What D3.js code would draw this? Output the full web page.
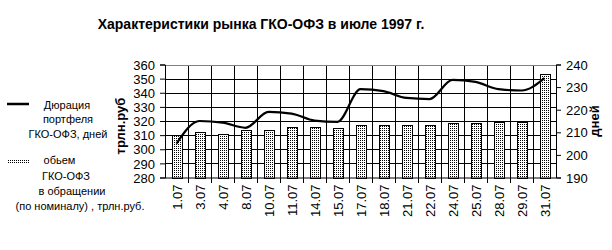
<!DOCTYPE html>
<html>
<head>
<meta charset="utf-8">
<script src="https://cdn.jsdelivr.net/npm/d3@7"></script>
<style>
  body { margin: 0; background: #fff; }
  text { font-family: "Liberation Sans", Arial, sans-serif; }
</style>
</head>
<body>
<script>
const dates = ["1.07", "3.07", "4.07", "8.07", "10.07", "11.07", "14.07", "15.07", "17.07",
  "18.07", "21.07", "22.07", "24.07", "25.07", "28.07", "29.07", "31.07"];
// объем ГКО-ОФЗ в обращении, трлн.руб (левая ось)
const volume = [310, 312, 311, 313.5, 313.5, 315.5, 315.5, 315, 317, 317, 317, 317, 318.5, 318.5, 319, 319, 353];
// дюрация портфеля, дней (правая ось)
const duration = [205, 215, 214.3, 212, 219, 218.3, 215.2, 214.6, 229.1, 228.2, 225.2, 224.7, 233.2, 232.3, 229.1, 228.5, 234];
const leftTicks = [280, 290, 300, 310, 320, 330, 340, 350, 360];
const rightTicks = [190, 200, 210, 220, 230, 240];

const W = 612, H = 250;
const plot = {left: 165, right: 556, top: 64.5, bottom: 177.5};

const svg = d3.select("body").append("svg")
  .attr("width", W)
  .attr("height", H);

const defs = svg.append("defs");
const pat = defs.append("pattern")
  .attr("id", "dots")
  .attr("patternUnits", "userSpaceOnUse")
  .attr("width", 2)
  .attr("height", 2);
pat.append("rect").attr("width", 2).attr("height", 2).attr("fill", "#fff");
pat.append("rect").attr("width", 1).attr("height", 1).attr("fill", "#000");

const x = d3.scaleBand()
  .domain(dates)
  .range([plot.left, plot.right])
  .padding(0);

const yL = d3.scaleLinear()
  .domain([280, 360])
  .range([plot.bottom, plot.top]);

const yR = d3.scaleLinear()
  .domain([190, 240])
  .range([plot.bottom, plot.top]);

// title
svg.append("text")
  .attr("x", 261)
  .attr("y", 28.5)
  .attr("text-anchor", "middle")
  .attr("font-size", 14)
  .attr("font-weight", "bold")
  .text("Характеристики рынка ГКО-ОФЗ в июле 1997 г.");

// grid
const grid = svg.append("g").attr("shape-rendering", "crispEdges");
grid.selectAll("line.h")
  .data(leftTicks.slice(1, -1))
  .enter().append("line")
  .attr("class", "h")
  .attr("x1", plot.left).attr("x2", plot.right)
  .attr("y1", d => Math.round(yL(d)) + 0.5)
  .attr("y2", d => Math.round(yL(d)) + 0.5)
  .attr("stroke", "#000");
grid.selectAll("line.v")
  .data(dates.slice(1))
  .enter().append("line")
  .attr("class", "v")
  .attr("x1", d => Math.round(x(d)) + 0.5)
  .attr("x2", d => Math.round(x(d)) + 0.5)
  .attr("y1", plot.top).attr("y2", plot.bottom)
  .attr("stroke", "#000");
grid.append("line")
  .attr("x1", plot.left).attr("x2", plot.right)
  .attr("y1", Math.round(plot.top) + 0.5).attr("y2", Math.round(plot.top) + 0.5)
  .attr("stroke", "#808080");

// bars
const barW = 10;
svg.append("g")
  .attr("shape-rendering", "crispEdges")
  .selectAll("rect")
  .data(volume)
  .enter().append("rect")
  .attr("x", (d, i) => Math.round(x(dates[i]) + x.bandwidth() / 2 - barW / 2) + 0.5)
  .attr("y", d => Math.round(yL(d)) + 0.5)
  .attr("width", barW)
  .attr("height", d => Math.round(yL(280)) - Math.round(yL(d)))
  .attr("fill", "url(#dots)")
  .attr("stroke", "#000");

// line
const line = d3.line()
  .x((d, i) => x(dates[i]) + x.bandwidth() / 2)
  .y(d => yR(d))
  .curve(d3.curveMonotoneX);

svg.append("path")
  .attr("d", line(duration))
  .attr("fill", "none")
  .attr("stroke", "#000")
  .attr("stroke-width", 2.2);

// axes
const axisL = svg.append("g")
  .attr("transform", `translate(${plot.left},0)`)
  .call(d3.axisLeft(yL).tickValues(leftTicks).tickSize(5).tickPadding(5));
const axisR = svg.append("g")
  .attr("transform", `translate(${plot.right},0)`)
  .call(d3.axisRight(yR).tickValues(rightTicks).tickSize(5).tickPadding(5));
const axisB = svg.append("g")
  .attr("transform", `translate(0,${plot.bottom})`)
  .call(d3.axisBottom(x).tickSize(0).tickPadding(0));

[axisL, axisR].forEach(a => {
  a.select(".domain").attr("stroke", "#000");
  a.selectAll("text").attr("font-size", 13).attr("font-family", "Liberation Sans, Arial, sans-serif");
});
axisL.selectAll("text").attr("dy", "0.36em");
axisR.selectAll("text").attr("dy", "0.36em");

axisB.select(".domain").attr("d", `M${plot.left},0.5H${plot.right}`).attr("stroke", "#000");
axisB.selectAll(".tick text")
  .attr("font-size", 13)
  .attr("font-family", "Liberation Sans, Arial, sans-serif")
  .attr("text-anchor", "end")
  .attr("transform", "translate(1,7) rotate(-90)")
  .attr("x", 0)
  .attr("y", 0)
  .attr("dy", "0.36em");

// bottom tick marks at category boundaries
svg.append("g")
  .attr("shape-rendering", "crispEdges")
  .selectAll("line")
  .data(dates.slice(1))
  .enter().append("line")
  .attr("x1", d => Math.round(x(d)) + 0.5)
  .attr("x2", d => Math.round(x(d)) + 0.5)
  .attr("y1", plot.bottom)
  .attr("y2", plot.bottom + 5)
  .attr("stroke", "#000");

// axis titles
svg.append("text")
  .attr("transform", `translate(124.5,${(plot.top + plot.bottom) / 2 + 5}) rotate(-90)`)
  .attr("text-anchor", "middle")
  .attr("font-size", 13)
  .attr("font-weight", "bold")
  .text("трлн.руб");
svg.append("text")
  .attr("transform", `translate(599,${(plot.top + plot.bottom) / 2}) rotate(-90)`)
  .attr("text-anchor", "middle")
  .attr("font-size", 13)
  .attr("font-weight", "bold")
  .text("дней");

// legend
const legend = svg.append("g").attr("font-size", 11);
legend.append("line")
  .attr("x1", 7).attr("x2", 29)
  .attr("y1", 104).attr("y2", 104)
  .attr("stroke", "#000")
  .attr("stroke-width", 2.5);
const lineLabel = [["Дюрация", 67, 108.5], ["портфеля", 68, 123], ["ГКО-ОФЗ, дней", 68, 137.5]];
const barLabel = [["обьем", 59.5, 163.5], ["ГКО-ОФЗ", 66, 180], ["в обращении", 72, 195], ["(по номиналу) , трлн.руб.", 80, 209.5]];
legend.selectAll("text.l")
  .data(lineLabel.concat(barLabel))
  .enter().append("text")
  .attr("x", d => d[1])
  .attr("y", d => d[2])
  .attr("text-anchor", "middle")
  .text(d => d[0]);
legend.append("rect")
  .attr("x", 7).attr("y", 159)
  .attr("width", 22).attr("height", 4)
  .attr("fill", "url(#dots)");
</script>
</body>
</html>
